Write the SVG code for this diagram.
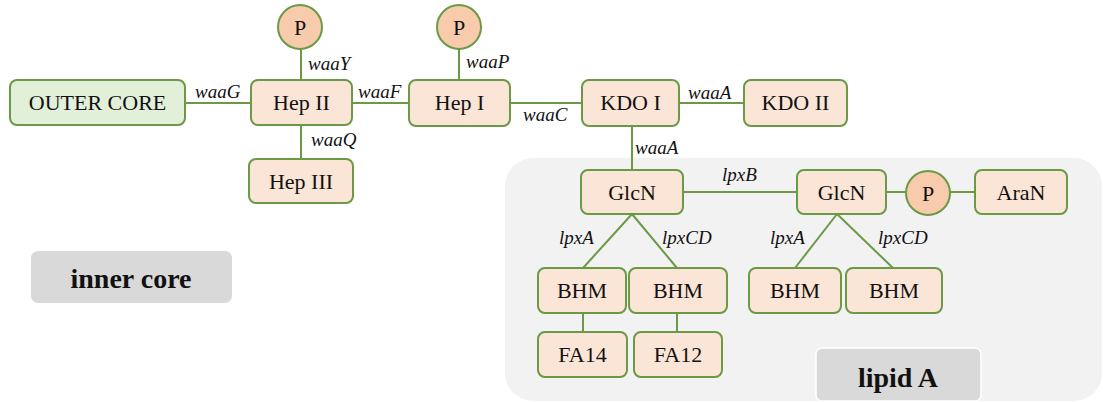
<svg xmlns="http://www.w3.org/2000/svg" width="1103" height="402" viewBox="0 0 1103 402">
<style>
.n{fill:#fbe5d6;stroke:#6b9a47;stroke-width:2}
.g{fill:#e2f0d9;stroke:#6b9a47;stroke-width:2}
.p{fill:#f8cbad;stroke:#6b9a47;stroke-width:2}
text{font-family:'Liberation Serif','Times New Roman','DejaVu Serif',serif}
.t{font-size:22px;fill:#111;text-anchor:middle}
.l{font-size:19px;font-style:italic;fill:#111}
.b{font-size:28px;font-weight:bold;fill:#111;text-anchor:middle}
#connectors line{stroke:#6b9a47;stroke-width:2}
</style>
<rect id="lipidA-region" x="505" y="158" width="597" height="243" rx="28" fill="#f2f2f2"/>
<g id="inner-core-label"><rect x="31" y="251" width="201" height="52" rx="7" fill="#d9d9d9"/><text class="b" x="131" y="288">inner core</text></g>
<g id="lipid-a-label"><rect x="816" y="348" width="165" height="53" rx="6" fill="#d9d9d9" stroke="#fff" stroke-width="1.5"/><text class="b" x="898" y="387">lipid A</text></g>
<g id="connectors">
<line x1="185" y1="103" x2="251" y2="103"/>
<line x1="301" y1="49" x2="301" y2="80"/>
<line x1="301" y1="125" x2="301" y2="159"/>
<line x1="352" y1="103" x2="409" y2="103"/>
<line x1="459" y1="49" x2="459" y2="80"/>
<line x1="510" y1="103" x2="582" y2="103"/>
<line x1="679" y1="103" x2="744" y2="103"/>
<line x1="632" y1="126" x2="632" y2="170"/>
<line x1="683" y1="192" x2="797" y2="192"/>
<line x1="886" y1="192" x2="906" y2="192"/>
<line x1="950" y1="192" x2="975" y2="192"/>
<line x1="632" y1="214" x2="583" y2="268"/>
<line x1="632" y1="214" x2="677" y2="268"/>
<line x1="837" y1="214" x2="795" y2="268"/>
<line x1="837" y1="214" x2="893" y2="268"/>
<line x1="583" y1="313" x2="583" y2="332"/>
<line x1="677" y1="313" x2="677" y2="332"/>
<text class="l" x="195" y="98">waaG</text>
<text class="l" x="308" y="70">waaY</text>
<text class="l" x="311" y="146">waaQ</text>
<text class="l" x="358" y="98">waaF</text>
<text class="l" x="466" y="68">waaP</text>
<text class="l" x="523" y="121">waaC</text>
<text class="l" x="688" y="99">waaA</text>
<text class="l" x="635" y="154">waaA</text>
<text class="l" x="722" y="181">lpxB</text>
<text class="l" x="559" y="244">lpxA</text>
<text class="l" x="662" y="244">lpxCD</text>
<text class="l" x="770" y="244">lpxA</text>
<text class="l" x="878" y="244">lpxCD</text>
</g>
<g id="outer-core"><rect class="g" x="10" y="80" width="175" height="45" rx="7"/><text class="t" x="97.5" y="110">OUTER CORE</text></g>
<g id="hep-ii"><rect class="n" x="251" y="80" width="101" height="45" rx="7"/><text class="t" x="301.5" y="110">Hep II</text></g>
<g id="p-hep-ii"><circle class="p" cx="300" cy="27" r="22"/><text class="t" x="300" y="35">P</text></g>
<g id="hep-iii"><rect class="n" x="249" y="159" width="104" height="44" rx="7"/><text class="t" x="301" y="189">Hep III</text></g>
<g id="hep-i"><rect class="n" x="409" y="80" width="101" height="46" rx="7"/><text class="t" x="459.5" y="110">Hep I</text></g>
<g id="p-hep-i"><circle class="p" cx="459" cy="27" r="22"/><text class="t" x="459" y="35">P</text></g>
<g id="kdo-i"><rect class="n" x="582" y="80" width="97" height="46" rx="7"/><text class="t" x="630.5" y="110">KDO I</text></g>
<g id="kdo-ii"><rect class="n" x="744" y="80" width="103" height="46" rx="7"/><text class="t" x="795.5" y="110">KDO II</text></g>
<g id="glcn-1"><rect class="n" x="581" y="170" width="102" height="44" rx="7"/><text class="t" x="632" y="200">GlcN</text></g>
<g id="glcn-2"><rect class="n" x="797" y="170" width="89" height="44" rx="7"/><text class="t" x="841.5" y="200">GlcN</text></g>
<g id="p-glcn"><circle class="p" cx="928" cy="193" r="22"/><text class="t" x="928" y="201">P</text></g>
<g id="aran"><rect class="n" x="975" y="170" width="92" height="44" rx="7"/><text class="t" x="1021" y="200">AraN</text></g>
<g id="bhm-1"><rect class="n" x="538" y="268" width="88" height="45" rx="7"/><text class="t" x="582" y="298">BHM</text></g>
<g id="bhm-2"><rect class="n" x="629" y="268" width="98" height="45" rx="7"/><text class="t" x="678" y="298">BHM</text></g>
<g id="bhm-3"><rect class="n" x="749" y="268" width="92" height="45" rx="7"/><text class="t" x="795" y="298">BHM</text></g>
<g id="bhm-4"><rect class="n" x="846" y="268" width="96" height="45" rx="7"/><text class="t" x="894" y="298">BHM</text></g>
<g id="fa14"><rect class="n" x="538" y="332" width="89" height="45" rx="7"/><text class="t" x="582.5" y="362">FA14</text></g>
<g id="fa12"><rect class="n" x="634" y="332" width="88" height="45" rx="7"/><text class="t" x="678" y="362">FA12</text></g>
</svg>
